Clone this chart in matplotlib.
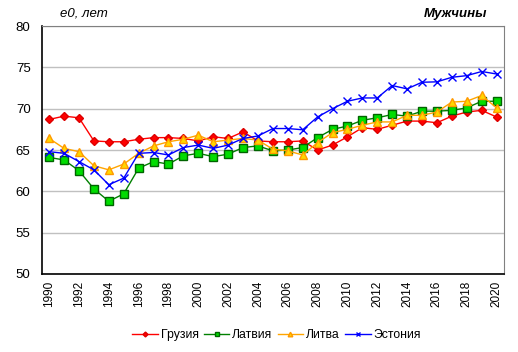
import matplotlib
matplotlib.use("Agg")
import matplotlib.pyplot as plt

years = list(range(1990, 2021))

georgia = [68.7, 69.1, 68.9, 66.1, 66.0, 66.0, 66.3, 66.5, 66.5, 66.4,
           66.1, 66.6, 66.4, 67.2, 66.1, 66.0, 66.0, 66.1, 65.0, 65.6,
           66.6, 67.7, 67.5, 68.0, 68.5, 68.5, 68.3, 69.1, 69.6, 69.8, 69.0]
latvia = [64.1, 63.8, 62.5, 60.3, 58.8, 59.7, 62.8, 63.6, 63.3, 64.3,
          64.6, 64.2, 64.5, 65.3, 65.5, 64.9, 65.0, 65.3, 66.5, 67.5,
          67.9, 68.6, 68.9, 69.3, 69.1, 69.7, 69.7, 69.8, 70.1, 70.9, 70.9]
lithuania = [66.4, 65.2, 64.8, 63.1, 62.6, 63.3, 64.6, 65.5, 66.0, 66.3,
             66.8, 66.0, 66.2, 66.4, 66.2, 65.1, 64.9, 64.4, 65.9, 67.1,
             67.5, 68.0, 68.4, 68.4, 69.2, 69.2, 69.6, 70.8, 70.9, 71.6, 70.1]
estonia = [64.8, 64.6, 63.6, 62.6, 60.8, 61.6, 64.6, 64.7, 64.4, 65.3,
           65.6, 65.2, 65.6, 66.4, 66.7, 67.6, 67.6, 67.45, 69.0, 70.0,
           70.9, 71.3, 71.3, 72.8, 72.4, 73.2, 73.25, 73.8, 74.0, 74.5, 74.2]

names = ["Грузия", "Латвия", "Литва", "Эстония"]

plt.rcParams["font.family"] = ["Liberation Sans", "DejaVu Sans"]

fig = plt.figure(figsize=(5.18, 3.52), dpi=100)
ax = fig.add_axes([0.0805, 0.2216, 0.8925, 0.7044])

ax.plot(years, georgia, color="#ff0000", lw=1, marker="D", ms=4.5,
        mfc="#ff0000", mec="#dd0000", label=names[0])
ax.plot(years, latvia, color="#008000", lw=1, marker="s", ms=6,
        mfc="#00dd00", mec="#006400", label=names[1])
ax.plot(years, lithuania, color="#ffa500", lw=1, marker="^", ms=6,
        mfc="#ffd700", mec="#ff9900", label=names[2])
ax.plot(years, estonia, color="#0000ff", lw=1, marker="x", ms=6,
        mew=1, label=names[3])

ax.set_xlim(1989.5, 2020.5)
ax.set_ylim(50, 80)
ax.set_yticks(range(50, 81, 5))
ax.set_xticks(years[::2])
ax.set_xticklabels([str(y) for y in years[::2]], rotation=90)
ax.tick_params(axis="y", labelsize=9.5, length=0, pad=8)
ax.tick_params(axis="x", labelsize=8.5, length=0, pad=5)
ax.grid(axis="y", color="#c0c0c0", lw=1)
ax.set_axisbelow(True)
for side in ("top", "right"):
    ax.spines[side].set_color("#808080")
for side in ("left", "bottom"):
    ax.spines[side].set_color("black")
    ax.spines[side].set_linewidth(1.2)

fig.text(0.116, 0.952, "e0, лет", fontsize=9.5, style="italic")
fig.text(0.94, 0.952, "Мужчины", fontsize=9.5, style="italic",
         weight="bold", ha="right")

fig.legend(loc="center", bbox_to_anchor=(0.534, 0.048), ncol=4,
           frameon=False, fontsize=8.8, handlelength=2.1, columnspacing=0.4,
           handletextpad=0.25, markerscale=0.55)

fig.savefig("out.png", dpi=100)
